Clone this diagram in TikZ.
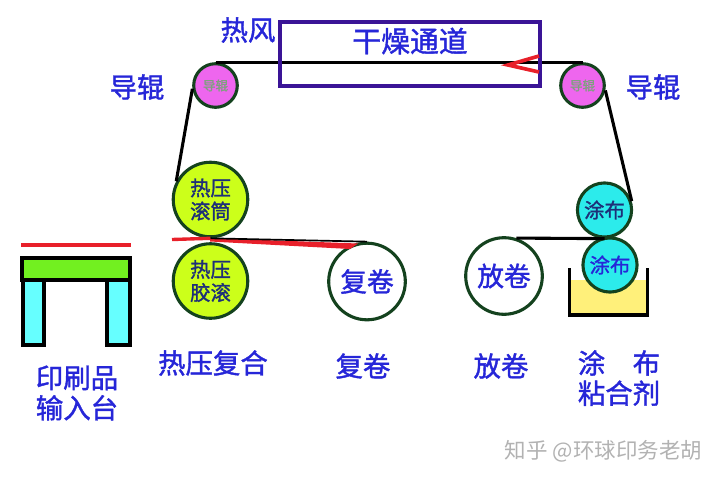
\documentclass[tikz,border=0pt]{standalone}
\usepackage{fontspec}
\setmainfont{Noto Sans CJK SC}
\newfontfamily\heavycjk[FakeBold=1.4]{Noto Sans CJK SC}
\definecolor{labelblue}{HTML}{2626D8}
\definecolor{boxviolet}{HTML}{3A1496}
\definecolor{rimgreen}{HTML}{14421E}
\definecolor{inkblue}{HTML}{1E2F78}
\definecolor{rollpink}{HTML}{EE66EE}
\definecolor{rolllime}{HTML}{CCFF1A}
\definecolor{rollcyan}{HTML}{2CEBEB}
\definecolor{standcyan}{HTML}{66FFFF}
\definecolor{standgreen}{HTML}{72F020}
\definecolor{gluefill}{HTML}{FFF07A}
\definecolor{webred}{HTML}{E8202A}
\definecolor{smallgrey}{HTML}{7FA07F}
\tikzset{
 label text/.style={text=labelblue,font=\heavycjk\fontsize{19.5}{21.5}\selectfont,align=center,inner sep=0pt},
 roller/.style={circle,draw=rimgreen,line width=2.2pt,inner sep=0pt,align=center},
 web/.style={line width=2.2pt,black},
 stand/.style={draw=black,line width=2.2pt},
}
\begin{document}
\begin{tikzpicture}[x=0.025cm,y=-0.025cm]
 \useasboundingbox (0,0) rectangle (720,480);
 % tank
 \fill [gluefill] (570,280) rectangle (647,315);
 % rollers
 \node (guideL) [roller,fill=rollpink,minimum size=31pt,text=smallgrey,font=\heavycjk\fontsize{9}{9}\selectfont] at (215.5,85.5) {导辊};
 \node (guideR) [roller,fill=rollpink,minimum size=31pt,text=smallgrey,font=\heavycjk\fontsize{9}{9}\selectfont] at (582.5,85.5) {导辊};
 \node (drumA) [roller,fill=rolllime,minimum size=53pt,text=inkblue,font=\heavycjk\fontsize{14.5}{16.5}\selectfont] at (210.5,199.5) {热压\\滚筒};
 \node (drumB) [roller,fill=rolllime,minimum size=53pt,text=inkblue,font=\heavycjk\fontsize{14.5}{16.5}\selectfont] at (210.5,281) {热压\\胶滚};
 \node (rewind) [roller,fill=white,minimum size=54.5pt,text=labelblue,font=\heavycjk\fontsize{19}{19}\selectfont] at (367,281.5) {复卷};
 \node (unwind) [roller,fill=white,minimum size=54.5pt,text=labelblue,font=\heavycjk\fontsize{19}{19}\selectfont] at (504,276) {放卷};
 \node (coatA) [roller,fill=rollcyan,minimum size=38.5pt,text=inkblue,font=\heavycjk\fontsize{14.5}{14.5}\selectfont] at (604.5,210) {涂布};
 \node (coatB) [roller,fill=rollcyan,minimum size=38.5pt,text=labelblue,font=\heavycjk\fontsize{14.5}{14.5}\selectfont] at (610,265) {涂布};
 % tank walls
 \draw [line width=2.2pt] (569.5,268) -- (569.5,315) -- (647.5,315) -- (647.5,268);
 % stand
 \draw [stand,fill=standcyan] (23,280) rectangle (44,345);
 \draw [stand,fill=standcyan] (107,280) rectangle (130,345);
 \draw [stand,fill=standgreen] (22,258) rectangle (130,280);
 \draw [webred,line width=2.4pt] (21,245) -- (131,245);
 % web
 \draw [web] (guideL.north) -- (guideR.north);
 \draw [web] (guideL.188) -- (drumA.152);
 \draw [web] (guideR.-12) -- (coatA.18);
 \draw [web] (unwind.72) -- (coatA.south);
 \draw [webred,line width=2.4pt] (172,239.5) -- (drumA.south);
 \fill [webred] (210,238) -- (210,241.5) -- (350,249) -- (358,243.5) -- cycle;
 \draw [web,line width=1.2pt] (drumA.south) -- (rewind.north);
 % channel
 \node (channel) [draw=boxviolet,line width=2.3pt,minimum width=185pt,minimum height=45.5pt,inner sep=0pt] at (410,54) {};
 \node (channelText) [label text,font=\heavycjk\fontsize{20.5}{20.5}\selectfont] at (410,41) {干燥通道};
 \draw [webred,line width=2.6pt,line join=miter] (539,56) -- (508,65) -- (539,72);
 \node (hotAir) [label text] at (248,30) {热风};
 \node (guideTextL) [label text] at (137,87) {导辊};
 \node (guideTextR) [label text] at (653,87) {导辊};
 \node (pressText) [label text] at (213,363) {热压复合};
 \node (rewindText) [label text] at (363,366) {复卷};
 \node (unwindText) [label text] at (501,366) {放卷};
 \node (coatText) [label text] at (619,378) {涂\hspace{1em}布\\粘合剂};
 \node (inputText) [label text] at (77,393) {印刷品\\输入台};
 \node (markText) [text=gray!60,font=\fontsize{15.3}{15.3}\selectfont,inner sep=0pt] at (603.5,451) {知乎 @环球印务老胡};
\end{tikzpicture}
\end{document}
